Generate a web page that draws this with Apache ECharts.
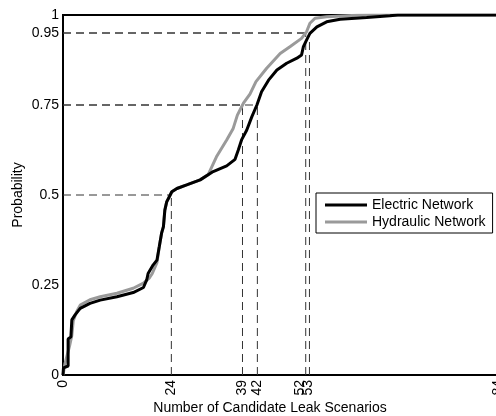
<!DOCTYPE html>
<html>
<head>
<meta charset="utf-8">
<script src="https://cdn.jsdelivr.net/npm/echarts@6/dist/echarts.min.js"></script>
<style>
  html, body { margin: 0; padding: 0; background: #fff; }
  #main { width: 496px; height: 416px; }
</style>
</head>
<body>
<div id="main"></div>
<script>
// where the x tick labels sit and the text printed there
var xTickPos = [0, 23.3, 38.6, 41.8, 51.0, 52.7, 93.6];
var xTickLabels = ['0', '24', '39', '42', '52', '53', '84'];
var yTickPos = [0, 0.25, 0.5, 0.75, 0.95, 1];

// quantile guide lines (x where a curve reaches the level)
var guideX = [23.3, 38.6, 41.8, 52.2, 53.0];
var guideY = [0.5, 0.75, 0.75, 0.95, 0.95];

// Electric Network CDF
var elecX = [0, 0.1, 1.1, 1.1, 1.7, 1.9, 2.6, 3.7, 5.8, 8.0, 11.6, 15.1, 17.3, 18.0, 18.3, 19.4, 20.2, 20.7, 21.2, 21.6, 21.9, 22.3, 22.7, 23.4, 24.5, 26.6, 29.5, 32.3, 35.2, 37.0, 37.7, 38.4, 39.5, 40.6, 41.7, 42.7, 44.2, 46.0, 48.1, 50.3, 51.3, 51.7, 52.4, 53.1, 54.6, 56.7, 59.6, 65.3, 70.3, 72, 100];
var elecY = [0, 0.02, 0.025, 0.10, 0.106, 0.153, 0.167, 0.185, 0.199, 0.208, 0.2175, 0.229, 0.243, 0.264, 0.282, 0.306, 0.319, 0.356, 0.394, 0.412, 0.458, 0.481, 0.486, 0.509, 0.518, 0.528, 0.542, 0.565, 0.581, 0.599, 0.625, 0.653, 0.68, 0.717, 0.75, 0.787, 0.819, 0.847, 0.866, 0.88, 0.889, 0.912, 0.931, 0.949, 0.967, 0.981, 0.988, 0.993, 0.998, 1, 1];

// Hydraulic Network CDF
var hydrX = [0, 0.4, 1.4, 1.9, 2.2, 2.9, 3.7, 5.8, 8.0, 11.6, 15.1, 17.3, 18.6, 19.2, 20.2, 20.7, 21.2, 21.6, 21.9, 22.3, 22.7, 23.4, 24.5, 26.6, 29.5, 31.2, 33.0, 35.2, 36.6, 37.5, 38.8, 40.2, 41.5, 43.8, 46.7, 48.8, 51.3, 52.4, 53.1, 54.2, 56.7, 63.2, 66.7, 100];
var hydrY = [0, 0.03, 0.08, 0.11, 0.15, 0.175, 0.194, 0.209, 0.2175, 0.227, 0.241, 0.255, 0.27, 0.282, 0.312, 0.356, 0.394, 0.412, 0.458, 0.481, 0.49, 0.509, 0.518, 0.528, 0.542, 0.556, 0.606, 0.653, 0.685, 0.722, 0.755, 0.78, 0.815, 0.852, 0.893, 0.912, 0.935, 0.954, 0.977, 0.991, 0.995, 0.999, 1, 1];

function zip(xs, ys) {
  return xs.map(function (x, i) { return [x, ys[i]]; });
}

var font = "'Liberation Sans', Arial, sans-serif";
var chart = echarts.init(document.getElementById('main'));

var series = [];
var dash = { color: '#333', width: 1, type: [8, 5] };
// horizontal then vertical guide for each quantile
guideX.forEach(function (gx, i) {
  series.push({
    type: 'line', silent: true, showSymbol: false, lineStyle: dash,
    data: [[0, guideY[i]], [gx, guideY[i]]]
  });
  series.push({
    type: 'line', silent: true, showSymbol: false, lineStyle: dash,
    data: [[gx, 0], [gx, guideY[i]]]
  });
});
series.push({
  name: 'Hydraulic Network',
  type: 'line',
  showSymbol: false,
  lineStyle: { color: '#9a9a9a', width: 3 },
  itemStyle: { color: '#9a9a9a' },
  data: zip(hydrX, hydrY)
});
series.push({
  name: 'Electric Network',
  type: 'line',
  showSymbol: false,
  lineStyle: { color: '#000', width: 3 },
  itemStyle: { color: '#000' },
  data: zip(elecX, elecY)
});

var option = {
  animation: false,
  backgroundColor: '#fff',
  grid: {
    left: 63, top: 15, width: 465, height: 360,
    outerBoundsMode: 'none',
    containLabel: false,
    show: true, borderColor: '#000', borderWidth: 2, backgroundColor: 'transparent'
  },
  xAxis: {
    type: 'value', min: 0, max: 100,
    axisLine: { show: true, lineStyle: { color: '#000', width: 2 } },
    axisTick: { show: false },
    splitLine: { show: false },
    axisLabel: {
      customValues: xTickPos,
      rotate: 90, margin: 5,
      hideOverlap: false,
      color: '#000', fontSize: 14, fontFamily: font,
      formatter: function (v) {
        for (var i = 0; i < xTickPos.length; i++) {
          if (Math.abs(xTickPos[i] - v) < 1e-6) return xTickLabels[i];
        }
        return '';
      }
    }
  },
  yAxis: {
    type: 'value', min: 0, max: 1,
    name: 'Probability', nameLocation: 'middle', nameGap: 38,
    nameMoveOverlap: false,
    nameTextStyle: { color: '#000', fontSize: 14, fontFamily: font },
    axisLine: { show: true, lineStyle: { color: '#000', width: 2 } },
    axisTick: { show: false },
    splitLine: { show: false },
    axisLabel: {
      customValues: yTickPos,
      margin: 4,
      color: '#000', fontSize: 14, fontFamily: font,
      formatter: function (v) { return String(v); }
    }
  },
  legend: {
    data: ['Electric Network', 'Hydraulic Network'],
    orient: 'vertical',
    left: 316, top: 193,
    padding: [5, 7, 4, 9],
    itemGap: 3,
    itemWidth: 42, itemHeight: 3,
    icon: 'rect',
    backgroundColor: '#fff',
    borderColor: '#000', borderWidth: 1,
    textStyle: { color: '#000', fontSize: 14, fontFamily: font }
  },
  graphic: [{
    type: 'text',
    x: 270, y: 408,
    style: {
      text: 'Number of Candidate Leak Scenarios',
      fill: '#000', font: '14px ' + font,
      align: 'center', verticalAlign: 'middle'
    }
  }],
  series: series
};

chart.setOption(option);
</script>
</body>
</html>
